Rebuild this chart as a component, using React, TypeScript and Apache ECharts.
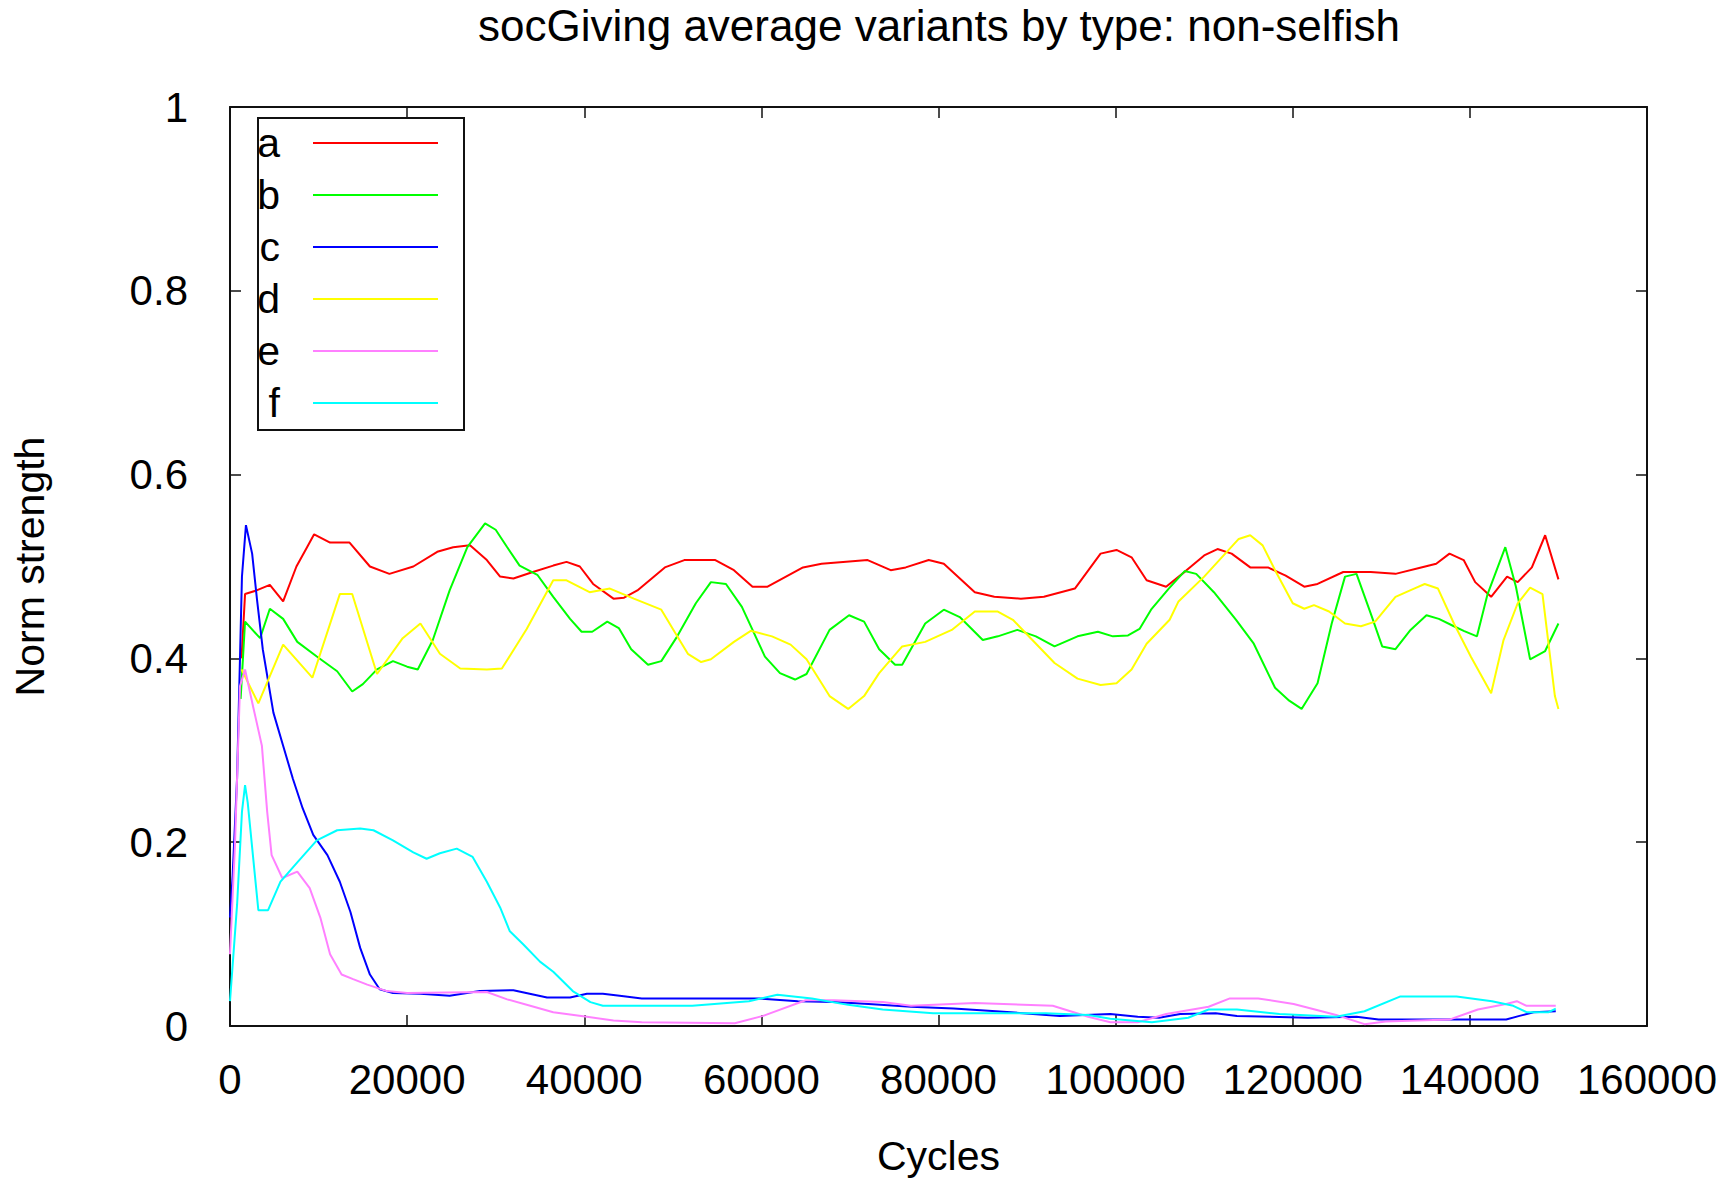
import React, { useEffect, useRef } from "react";
import * as echarts from "echarts";

const TITLE = "socGiving average variants by type: non-selfish";
const X_NAME = "Cycles";
const Y_NAME = "Norm strength";
const SERIES_NAMES = ["a", "b", "c", "d", "e", "f"];
const SERIES_COLORS = ["#ff0000", "#00ff00", "#0000ff", "#ffff00", "#ff80ff", "#00ffff"];

const seriesA: [number, number][] = [
  [1300, 0.40], [1700, 0.47], [3000, 0.474], [4500, 0.48], [6000, 0.462], [7500, 0.50], [8700, 0.521],
  [9500, 0.535], [11300, 0.526], [13500, 0.526], [15800, 0.50], [18000, 0.492], [20700, 0.50],
  [23400, 0.516], [25200, 0.521], [27100, 0.523], [29000, 0.507], [30500, 0.489], [32000, 0.487],
  [34200, 0.494], [36500, 0.501], [38000, 0.505], [39500, 0.50], [41000, 0.481], [43300, 0.465],
  [44500, 0.466], [46000, 0.474], [49100, 0.499], [51300, 0.507], [54800, 0.507], [56900, 0.496],
  [59000, 0.478], [60700, 0.478], [64700, 0.499], [66800, 0.503], [72000, 0.507], [74600, 0.496],
  [76300, 0.499], [78900, 0.507], [80600, 0.503], [84100, 0.472], [86300, 0.467], [89300, 0.465],
  [91900, 0.467], [95400, 0.476], [98300, 0.514], [100100, 0.518], [101800, 0.51], [103500, 0.485],
  [105700, 0.478], [107900, 0.495], [110000, 0.512], [111500, 0.519], [113100, 0.514], [115200, 0.499],
  [117200, 0.499], [119200, 0.49], [121300, 0.478], [122800, 0.481], [125700, 0.494], [128800, 0.494],
  [131600, 0.492], [134500, 0.499], [136200, 0.503], [137700, 0.514], [139300, 0.507], [140600, 0.483],
  [142400, 0.467], [144200, 0.489], [145400, 0.483], [147000, 0.499], [148500, 0.534], [150000, 0.486],
];

const seriesB: [number, number][] = [
  [1200, 0.356], [1700, 0.44], [3400, 0.422], [4500, 0.454], [6000, 0.443], [7600, 0.418], [9800, 0.402],
  [12100, 0.386], [13800, 0.364], [15000, 0.372], [16600, 0.388], [18400, 0.397], [20000, 0.391],
  [21200, 0.388], [22900, 0.42], [24800, 0.474], [26800, 0.521], [28800, 0.547], [30000, 0.54],
  [31300, 0.521], [32700, 0.501], [34700, 0.491], [36500, 0.467], [38400, 0.443], [39700, 0.429],
  [40900, 0.429], [42600, 0.44], [43900, 0.433], [45300, 0.41], [47200, 0.393], [48700, 0.397],
  [50500, 0.424], [52600, 0.46], [54300, 0.483], [56000, 0.481], [57800, 0.456], [60400, 0.402],
  [62100, 0.384], [63800, 0.377], [65100, 0.383], [67700, 0.431], [69900, 0.447], [71600, 0.44],
  [73300, 0.41], [75100, 0.393], [75900, 0.393], [78500, 0.438], [80600, 0.453], [82400, 0.445],
  [85000, 0.42], [86700, 0.424], [88900, 0.431], [91000, 0.424], [93100, 0.413], [95700, 0.424],
  [98000, 0.429], [99700, 0.424], [101400, 0.425], [102700, 0.432], [104000, 0.453], [106000, 0.476],
  [107800, 0.495], [109100, 0.492], [111100, 0.472], [113600, 0.442], [115600, 0.416], [118000, 0.368],
  [119600, 0.354], [121000, 0.345], [122800, 0.373], [124400, 0.438], [125900, 0.489], [127200, 0.492],
  [128800, 0.449], [130100, 0.413], [131600, 0.41], [133300, 0.431], [135100, 0.447], [136500, 0.443],
  [138200, 0.435], [139300, 0.43], [140800, 0.424], [142000, 0.47], [144000, 0.521], [145200, 0.478],
  [146800, 0.399], [148500, 0.408], [150000, 0.438],
];

const seriesC: [number, number][] = [
  [0, 0.118], [300, 0.164], [800, 0.27], [1350, 0.489], [1800, 0.545], [2500, 0.514], [3050, 0.464],
  [3700, 0.41], [4900, 0.341], [6000, 0.305], [7100, 0.269], [8200, 0.237], [9400, 0.208], [11000, 0.186],
  [12400, 0.157], [13600, 0.124], [14700, 0.085], [15800, 0.056], [16900, 0.04], [18400, 0.036],
  [21500, 0.035], [24800, 0.033], [28200, 0.038], [32000, 0.039], [35800, 0.031], [38400, 0.031],
  [40300, 0.035], [42100, 0.035], [44000, 0.033], [46500, 0.03], [59700, 0.03], [64100, 0.027],
  [68200, 0.026], [72100, 0.024], [76900, 0.021], [81700, 0.019], [86500, 0.016], [93700, 0.011],
  [99400, 0.013], [102500, 0.01], [104900, 0.009], [107300, 0.013], [111300, 0.014], [113700, 0.011],
  [121700, 0.009], [127200, 0.01], [129700, 0.007], [144100, 0.007], [145600, 0.011], [147200, 0.015],
  [149700, 0.016],
];

const seriesD: [number, number][] = [
  [1300, 0.388], [3200, 0.351], [6000, 0.415], [9300, 0.379], [12400, 0.47], [13800, 0.47], [16600, 0.383],
  [19500, 0.422], [21500, 0.438], [23700, 0.405], [26000, 0.389], [29000, 0.388], [30700, 0.389],
  [33500, 0.432], [36500, 0.485], [38000, 0.485], [40600, 0.472], [42900, 0.476], [45600, 0.465],
  [48700, 0.453], [50500, 0.424], [51700, 0.405], [53200, 0.396], [54300, 0.399], [56900, 0.418],
  [58800, 0.43], [61200, 0.424], [63300, 0.415], [65100, 0.399], [67700, 0.359], [69800, 0.345],
  [71600, 0.359], [73300, 0.384], [75900, 0.413], [78500, 0.418], [81500, 0.431], [84100, 0.451],
  [86700, 0.451], [88400, 0.442], [90600, 0.42], [93100, 0.395], [95700, 0.378], [98300, 0.371],
  [100100, 0.373], [101800, 0.388], [103500, 0.416], [106100, 0.442], [107100, 0.462], [110000, 0.489],
  [113900, 0.53], [115200, 0.534], [116600, 0.523], [118000, 0.496], [120000, 0.46], [121300, 0.454],
  [122400, 0.458], [124100, 0.451], [125900, 0.438], [127700, 0.435], [129300, 0.44], [131600, 0.467],
  [133700, 0.476], [134900, 0.481], [136400, 0.476], [138200, 0.438], [140100, 0.402], [142400, 0.362],
  [143800, 0.42], [145400, 0.46], [146800, 0.477], [148200, 0.47], [149600, 0.359], [150000, 0.345],
];

const seriesE: [number, number][] = [
  [0, 0.078], [560, 0.197], [1130, 0.37], [1700, 0.388], [2600, 0.348], [3600, 0.305], [4200, 0.233],
  [4700, 0.186], [5900, 0.161], [7600, 0.168], [9000, 0.15], [10200, 0.118], [11300, 0.078], [12600, 0.056],
  [13900, 0.051], [15500, 0.045], [17700, 0.038], [20000, 0.036], [29000, 0.037], [31300, 0.029],
  [33900, 0.022], [36500, 0.015], [40300, 0.01], [43300, 0.006], [46500, 0.004], [57000, 0.003],
  [60200, 0.011], [65000, 0.028], [68200, 0.028], [73700, 0.026], [76900, 0.022], [84100, 0.025],
  [92900, 0.022], [96900, 0.01], [99400, 0.004], [102500, 0.004], [105700, 0.013], [110500, 0.021],
  [112900, 0.03], [116100, 0.03], [120100, 0.024], [124900, 0.012], [128100, 0.002], [130500, 0.005],
  [137700, 0.007], [140900, 0.018], [144100, 0.024], [145300, 0.027], [146400, 0.022], [149700, 0.022],
];

const seriesF: [number, number][] = [
  [0, 0.027], [800, 0.132], [1350, 0.233], [1700, 0.262], [2000, 0.243], [3200, 0.126], [4300, 0.126],
  [5700, 0.157], [7600, 0.178], [9800, 0.202], [12100, 0.213], [14700, 0.215], [16200, 0.213],
  [18400, 0.202], [20700, 0.189], [22200, 0.182], [23700, 0.188], [25600, 0.193], [27400, 0.184],
  [29000, 0.157], [30500, 0.129], [31600, 0.103], [33100, 0.089], [35000, 0.07], [36500, 0.059],
  [38700, 0.038], [40700, 0.026], [42100, 0.022], [52200, 0.022], [58600, 0.027], [61800, 0.034],
  [65700, 0.03], [69800, 0.023], [73700, 0.018], [79400, 0.014], [92100, 0.014], [96900, 0.012],
  [99400, 0.008], [104100, 0.004], [108200, 0.009], [110500, 0.018], [113700, 0.018], [118500, 0.013],
  [124900, 0.01], [128100, 0.016], [132100, 0.032], [138500, 0.032], [142500, 0.027], [144900, 0.022],
  [146400, 0.015], [148900, 0.015], [149700, 0.019],
];

const ALL_SERIES = [seriesA, seriesB, seriesC, seriesD, seriesE, seriesF];

const FONT = "'Liberation Sans', Arial, sans-serif";
const FRAME = "#111";

export default function App() {
  const ref = useRef<HTMLDivElement>(null);

  useEffect(() => {
    if (!ref.current) return;
    const chart = echarts.init(ref.current, undefined, { renderer: "svg" });

    const gridLeft = 230;
    const gridRight = 80;
    const gridTop = 107;
    const gridBottom = 149;

    const axisCommon = {
      type: "value" as const,
      axisLine: { show: true, onZero: false, lineStyle: { color: FRAME, width: 2 } },
      axisTick: { show: true, inside: true, length: 11, lineStyle: { color: FRAME, width: 1.5 } },
      splitLine: { show: false },
    };

    const legendX = 258;
    const legendY = 118;
    const legendW = 206;
    const legendH = 312;
    const rowY0 = 143;
    const rowGap = 52;

    const legendElements: any[] = [
      {
        type: "rect",
        shape: { x: legendX, y: legendY, width: legendW, height: legendH },
        style: { fill: "#fff", stroke: FRAME, lineWidth: 2 },
        z: 100,
      },
    ];
    SERIES_NAMES.forEach((name, i) => {
      const y = rowY0 + i * rowGap;
      legendElements.push({
        type: "text",
        x: 280,
        y: y,
        style: {
          text: name,
          fontFamily: FONT,
          fontSize: 41,
          fill: "#000",
          align: "right",
          verticalAlign: "middle",
        },
        z: 101,
      });
      legendElements.push({
        type: "line",
        shape: { x1: 313, y1: y, x2: 438, y2: y },
        style: { stroke: SERIES_COLORS[i], lineWidth: 2 },
        z: 101,
      });
    });

    chart.setOption({
      animation: false,
      backgroundColor: "#ffffff",
      title: {
        text: TITLE,
        left: 934,
        top: -2,
        textAlign: "center",
        textStyle: { fontFamily: FONT, fontSize: 44, fontWeight: "normal", color: "#000" },
      },
      grid: { left: gridLeft, right: gridRight, top: gridTop, bottom: gridBottom, containLabel: false },
      xAxis: [
        {
          ...axisCommon,
          position: "bottom",
          min: 0,
          max: 160000,
          interval: 20000,
          name: X_NAME,
          nameLocation: "middle",
          nameGap: 109,
          nameTextStyle: { fontFamily: FONT, fontSize: 41, color: "#000" },
          axisLabel: {
            margin: 32,
            fontFamily: FONT,
            fontSize: 42,
            color: "#000",
            showMinLabel: true,
            showMaxLabel: true,
            formatter: (v: number) => String(Math.round(v)),
          },
        },
        {
          ...axisCommon,
          position: "top",
          min: 0,
          max: 160000,
          interval: 20000,
          axisLabel: { show: false },
        },
      ],
      yAxis: [
        {
          ...axisCommon,
          position: "left",
          min: 0,
          max: 1,
          interval: 0.2,
          name: Y_NAME,
          nameLocation: "middle",
          nameRotate: 90,
          nameGap: 180,
          nameTextStyle: { fontFamily: FONT, fontSize: 41, color: "#000" },
          axisLabel: {
            margin: 42,
            fontFamily: FONT,
            fontSize: 42,
            color: "#000",
            formatter: (v: number) => String(Math.round(v * 10) / 10),
          },
        },
        {
          ...axisCommon,
          position: "right",
          min: 0,
          max: 1,
          interval: 0.2,
          axisLabel: { show: false },
        },
      ],
      series: ALL_SERIES.map((data, i) => ({
        name: SERIES_NAMES[i],
        type: "line",
        xAxisIndex: 0,
        yAxisIndex: 0,
        data,
        symbol: "none",
        showSymbol: false,
        smooth: false,
        lineStyle: { color: SERIES_COLORS[i], width: 2 },
        itemStyle: { color: SERIES_COLORS[i] },
        z: 2 + i,
      })),
      graphic: legendElements,
    });

    return () => {
      chart.dispose();
    };
  }, []);

  return (
    <div
      ref={ref}
      style={{ position: "fixed", left: 0, top: 0, width: 1727, height: 1181, background: "#fff" }}
    />
  );
}
